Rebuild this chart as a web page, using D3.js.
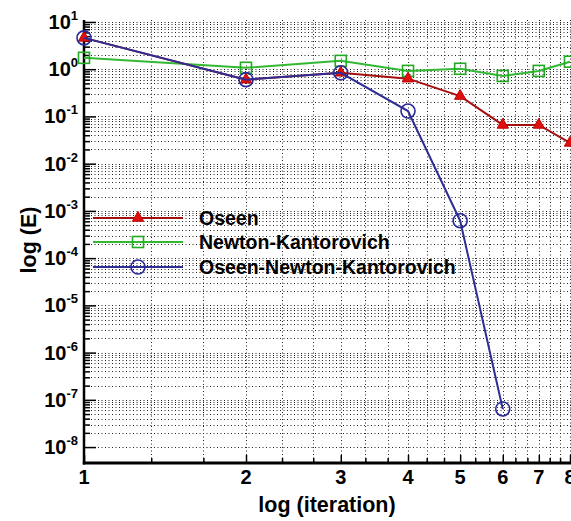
<!DOCTYPE html>
<html>
<head>
  <title>Convergence of iteration error</title>
  <script src="https://d3js.org/d3.v7.min.js"></script>
  <style>
    body { margin: 0; background: #fff; }
    text { font-family: "Liberation Sans", Arial, sans-serif; font-weight: bold; }
  </style>
</head>
<body>
<script>

// ****** DATA ******

  var iterations = [1, 2, 3, 4, 5, 6, 7, 8];
  var oseen = [4.6, 0.6, 0.84, 0.63, 0.27, 0.066, 0.066, 0.0275];
  var newtonK = [1.74, 1.07, 1.5, 0.92, 1.02, 0.72, 0.92, 1.44];
  var oseenNK = [4.6, 0.6, 0.84, 0.13, 6.2e-4, 6.4e-8];
  var seriesNames = ["Oseen", "Newton-Kantorovich", "Oseen-Newton-Kantorovich"];
  var xTickLabels = [1, 2, 3, 4, 5, 6, 7, 8];
  var yExponents = [1, 0, -1, -2, -3, -4, -5, -6, -7, -8];

// ****** SETUP ******

  var width = 571, height = 521;
  var plotLeft = 84, plotRight = 570, plotTop = 20, plotBottom = 463;

  var x = d3.scaleLog().domain([1, 8]).range([plotLeft, plotRight]);
  var y = d3.scaleLog().domain([4.6e-9, 11]).range([plotBottom, plotTop]);

  var svg = d3.select("body").append("svg")
    .attr("width", width)
    .attr("height", height);

  // minor ticks: thirds on x, 2..9 per decade on y
  var xMinor = [];
  iterations.slice(0, 7).forEach(function (n) { xMinor.push(n + 1 / 3, n + 2 / 3); });
  var yMajor = yExponents.map(function (e) { return Math.pow(10, e); });
  var yMinor = [];
  yExponents.forEach(function (e) {
    for (var k = 2; k <= 9; k++) {
      var v = k * Math.pow(10, e);
      if (v < 11 && v > 4.6e-9) yMinor.push(v);
    }
  });

// ****** GRID ******

  var grid = svg.append("g")
    .attr("stroke", "#222")
    .attr("stroke-width", 1)
    .attr("stroke-dasharray", "1,2.5");

  grid.selectAll(null).data(yMajor.concat(yMinor)).enter().append("line")
    .attr("x1", plotLeft).attr("x2", width)
    .attr("y1", function (d) { return Math.round(y(d)) + 0.5; })
    .attr("y2", function (d) { return Math.round(y(d)) + 0.5; });

  grid.selectAll(null).data(xTickLabels.slice(1).concat(xMinor)).enter().append("line")
    .attr("y1", plotTop).attr("y2", plotBottom)
    .attr("x1", function (d) { return Math.round(x(d)) + 0.5; })
    .attr("x2", function (d) { return Math.round(x(d)) + 0.5; });

// ****** AXES ******

  var yAxisMajor = d3.axisLeft(y).tickValues(yMajor).tickSize(-12).tickFormat("");
  var yAxisMinor = d3.axisLeft(y).tickValues(yMinor).tickSize(-6).tickFormat("");
  var xAxisMajor = d3.axisBottom(x).tickValues(xTickLabels).tickSize(-8).tickFormat("");
  var xAxisMinor = d3.axisBottom(x).tickValues(xMinor).tickSize(-5).tickFormat("");

  function styleAxis(g) {
    g.select(".domain").remove();
    g.selectAll(".tick line").attr("stroke", "#000").attr("stroke-width", 1.5);
  }

  svg.append("g").attr("transform", "translate(" + plotLeft + ",0)").call(yAxisMajor).call(styleAxis);
  svg.append("g").attr("transform", "translate(" + plotLeft + ",0)").call(yAxisMinor).call(styleAxis);
  svg.append("g").attr("transform", "translate(0," + plotBottom + ")").call(xAxisMajor).call(styleAxis);
  svg.append("g").attr("transform", "translate(0," + plotBottom + ")").call(xAxisMinor).call(styleAxis);

  svg.append("line").attr("x1", plotLeft).attr("x2", plotLeft).attr("y1", plotTop).attr("y2", plotBottom + 1.5)
    .attr("stroke", "#000").attr("stroke-width", 2.5);
  svg.append("line").attr("x1", plotLeft - 1.2).attr("x2", width).attr("y1", plotBottom).attr("y2", plotBottom)
    .attr("stroke", "#000").attr("stroke-width", 3);

  // y tick labels 10^n
  var yLab = svg.selectAll(null).data(yExponents).enter().append("text")
    .attr("x", 78)
    .attr("y", function (d) { return y(Math.pow(10, d)) + 7; })
    .attr("text-anchor", "end")
    .attr("font-size", 20);
  yLab.append("tspan").text("10");
  yLab.append("tspan").attr("font-size", 13).attr("dy", -9).text(function (d) { return d; });

  svg.selectAll(null).data(xTickLabels).enter().append("text")
    .attr("x", function (d) { return x(d); })
    .attr("y", 484)
    .attr("text-anchor", "middle")
    .attr("font-size", 20)
    .text(function (d) { return d; });

  svg.append("text")
    .attr("x", 327).attr("y", 512)
    .attr("text-anchor", "middle")
    .attr("font-size", 21.5)
    .text("log (iteration)");

  svg.append("text")
    .attr("transform", "translate(36,240) rotate(-90)")
    .attr("text-anchor", "middle")
    .attr("font-size", 21.5)
    .text("log (E)");

// ****** SERIES ******

  var line = d3.line()
    .x(function (d) { return x(d[0]); })
    .y(function (d) { return y(d[1]); });

  function pairs(vals) { return vals.map(function (v, i) { return [iterations[i], v]; }); }

  var series = [
    { name: seriesNames[0], data: pairs(oseen), line: "#a30f0f", marker: "triangle", fill: "#e01010", stroke: "#c00000" },
    { name: seriesNames[1], data: pairs(newtonK), line: "#33b833", marker: "square", fill: "none", stroke: "#22aa22" },
    { name: seriesNames[2], data: pairs(oseenNK), line: "#2e2e94", marker: "circle", fill: "none", stroke: "#2a2a9a" }
  ];

  function drawMarker(g, s) {
    if (s.marker === "triangle") {
      g.append("path").attr("d", d3.symbol().type(d3.symbolTriangle).size(55))
        .attr("fill", s.fill).attr("stroke", s.stroke).attr("stroke-width", 1);
    } else if (s.marker === "square") {
      g.append("rect").attr("x", -5.5).attr("y", -5.5).attr("width", 11).attr("height", 11)
        .attr("fill", "none").attr("stroke", s.stroke).attr("stroke-width", 1.6);
    } else {
      g.append("circle").attr("r", 7)
        .attr("fill", "none").attr("stroke", s.stroke).attr("stroke-width", 1.6);
    }
  }

  // draw order: green below, then red, then blue on top
  [series[1], series[0], series[2]].forEach(function (s) {
    svg.append("path").datum(s.data)
      .attr("d", line)
      .attr("fill", "none")
      .attr("stroke", s.line)
      .attr("stroke-width", 2);
    svg.selectAll(null).data(s.data).enter().append("g")
      .attr("transform", function (d) { return "translate(" + x(d[0]) + "," + y(d[1]) + ")"; })
      .each(function () { drawMarker(d3.select(this), s); });
  });

// ****** LEGEND ******

  var legendY = [218, 242, 267];
  series.forEach(function (s, i) {
    var g = svg.append("g").attr("transform", "translate(0," + legendY[i] + ")");
    g.append("line").attr("x1", 93).attr("x2", 183).attr("y1", 0).attr("y2", 0)
      .attr("stroke", s.line).attr("stroke-width", 2);
    drawMarker(g.append("g").attr("transform", "translate(138,0)"), s);
    g.append("text").attr("x", 199).attr("y", 7).attr("font-size", 19.5).text(s.name);
  });

</script>
</body>
</html>
